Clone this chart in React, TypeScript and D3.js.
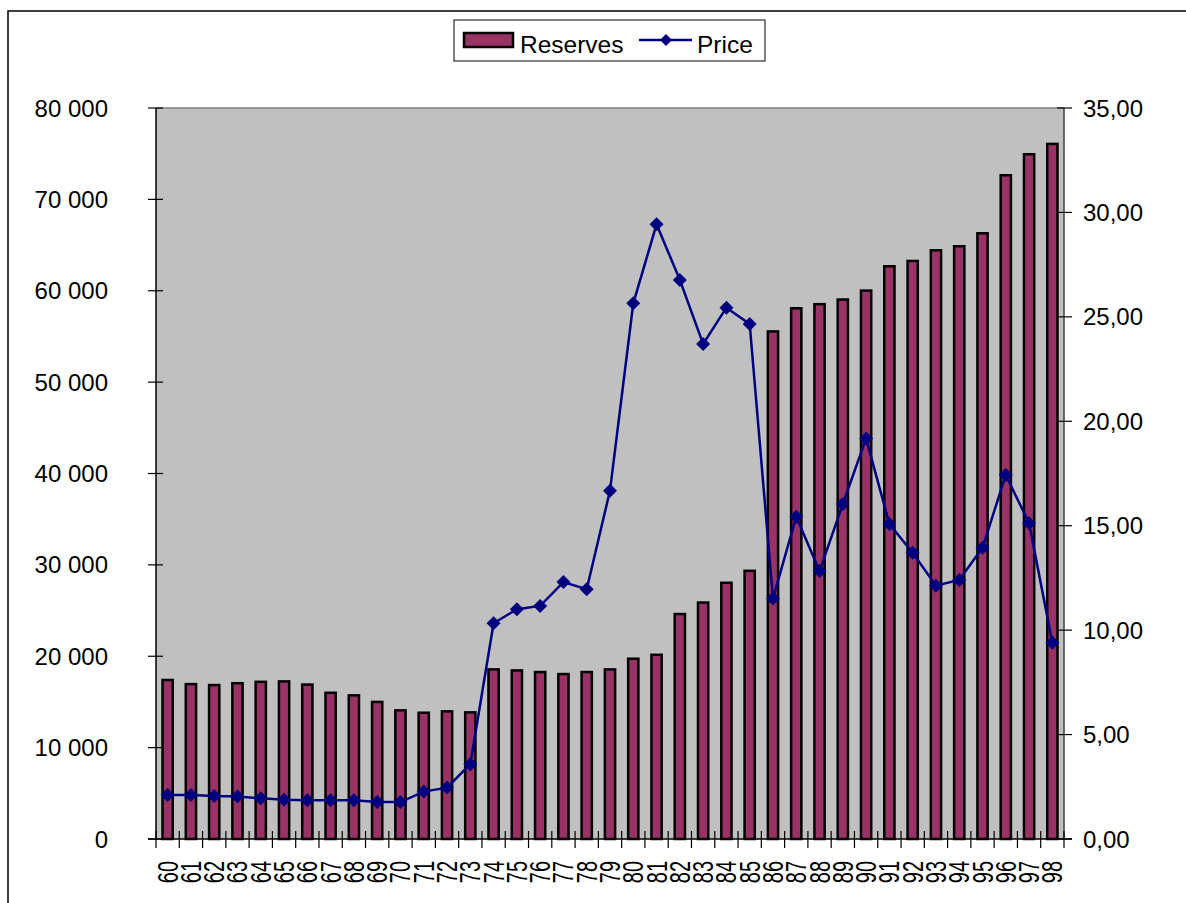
import React from 'react'
import * as d3 from 'd3'

const years = [
  '60', '61', '62', '63', '64', '65', '66', '67', '68', '69',
  '70', '71', '72', '73', '74', '75', '76', '77', '78', '79',
  '80', '81', '82', '83', '84', '85', '86', '87', '88', '89',
  '90', '91', '92', '93', '94', '95', '96', '97', '98',
]

const reserves = [
  17400, 16950, 16850, 17050, 17200, 17250, 16900, 16000, 15720, 15000,
  14080, 13820, 13970, 13860, 18560, 18450, 18270, 18050, 18270, 18560,
  19730, 20160, 24620, 25880, 28040, 29350, 55550, 58080, 58530, 59040,
  60020, 62680, 63260, 64430, 64870, 66290, 72640, 74940, 76070,
]

const price = [
  2.11, 2.11, 2.06, 2.04, 1.95, 1.88, 1.85, 1.85, 1.85, 1.77,
  1.77, 2.27, 2.46, 3.58, 10.33, 11.0, 11.16, 12.3, 11.96, 16.68,
  25.65, 29.43, 26.77, 23.7, 25.44, 24.66, 11.52, 15.43, 12.83, 16.04,
  19.18, 15.08, 13.71, 12.13, 12.4, 13.95, 17.43, 15.12, 9.4,
]

const leftTicks = [0, 10000, 20000, 30000, 40000, 50000, 60000, 70000, 80000]
const rightTicks = [0, 5, 10, 15, 20, 25, 30, 35]

const plot = { left: 156, right: 1064, top: 108, bottom: 839 }
const font = '"Liberation Sans", Arial, sans-serif'
const barColor = '#993366'
const lineColor = '#000080'

const fmtLeft = (v: number) => d3.format(',')(v).replace(/,/g, ' ')
const fmtRight = (v: number) => d3.format('.2f')(v).replace('.', ',')

function diamond(cx: number, cy: number, r: number) {
  return `M${cx},${cy - r}L${cx + r},${cy}L${cx},${cy + r}L${cx - r},${cy}Z`
}

export default function App() {
  const x = d3.scaleBand<string>().domain(years).range([plot.left, plot.right]).padding(0)
  const yLeft = d3.scaleLinear().domain([0, 80000]).range([plot.bottom, plot.top])
  const yRight = d3.scaleLinear().domain([0, 35]).range([plot.bottom, plot.top])
  const barW = x.bandwidth() * 0.44
  const center = (d: string) => (x(d) as number) + x.bandwidth() / 2

  const line = d3
    .line<number>()
    .x((_, i) => center(years[i]))
    .y((d) => yRight(d))

  const bandEdges = years.map((d) => x(d) as number).concat([plot.right])

  return (
    <svg
      width={1186}
      height={903}
      style={{ display: 'block', position: 'absolute', left: 0, top: 0 }}
    >
      <rect x={8} y={11} width={1200} height={920} fill="white" stroke="black" strokeWidth={1.5} />

      {/* legend */}
      <g fontFamily={font} fontSize={24.5}>
        <rect x={454} y={20} width={311} height={41} fill="white" stroke="black" strokeWidth={1} />
        <rect x={464} y={33} width={49} height={14} fill={barColor} stroke="black" strokeWidth={2.5} />
        <text x={520} y={53}>Reserves</text>
        <line x1={639} x2={692} y1={40} y2={40} stroke={lineColor} strokeWidth={2.5} />
        <path d={diamond(666, 40, 6)} fill={lineColor} />
        <text x={697} y={53}>Price</text>
      </g>

      <rect
        x={plot.left}
        y={plot.top}
        width={plot.right - plot.left}
        height={plot.bottom - plot.top}
        fill="#C0C0C0"
      />
      <line x1={plot.left} x2={plot.right} y1={plot.top} y2={plot.top} stroke="#808080" strokeWidth={1.5} />

      {years.map((d, i) => (
        <rect
          key={d}
          x={center(d) - barW / 2}
          y={yLeft(reserves[i])}
          width={barW}
          height={plot.bottom - yLeft(reserves[i])}
          fill={barColor}
          stroke="black"
          strokeWidth={2.5}
        />
      ))}

      <path d={line(price) ?? ''} fill="none" stroke={lineColor} strokeWidth={2.5} />
      {price.map((p, i) => (
        <path key={i} d={diamond(center(years[i]), yRight(p), 7)} fill={lineColor} />
      ))}

      {/* axes */}
      <line x1={plot.left} x2={plot.left} y1={plot.top} y2={plot.bottom} stroke="black" strokeWidth={1.5} />
      <line x1={plot.right} x2={plot.right} y1={plot.top} y2={plot.bottom} stroke="#404040" strokeWidth={1.5} />
      <line x1={plot.left - 8} x2={plot.right + 8} y1={plot.bottom} y2={plot.bottom} stroke="black" strokeWidth={1.5} />

      <g fontFamily={font} fontSize={24}>
        {leftTicks.map((t) => (
          <g key={'l' + t}>
            <line x1={plot.left - 8} x2={plot.left + 7} y1={yLeft(t)} y2={yLeft(t)} stroke="black" strokeWidth={1.2} />
            <text x={108} y={yLeft(t) + 8.5} textAnchor="end">
              {fmtLeft(t)}
            </text>
          </g>
        ))}
        {rightTicks.map((t) => (
          <g key={'r' + t}>
            <line x1={plot.right - 7} x2={plot.right + 8} y1={yRight(t)} y2={yRight(t)} stroke="black" strokeWidth={1.2} />
            <text x={1083} y={yRight(t) + 8.5} textAnchor="start">
              {fmtRight(t)}
            </text>
          </g>
        ))}
      </g>

      {bandEdges.map((e, i) => (
        <line key={'x' + i} x1={e} x2={e} y1={plot.bottom - 8} y2={plot.bottom + 9} stroke="black" strokeWidth={1.2} />
      ))}
      <g fontFamily={font} fontSize={20}>
        {years.map((d) => (
          <text
            key={'t' + d}
            transform={`translate(${center(d) + 10},${861}) rotate(-90) scale(1,1.45)`}
            textAnchor="end"
          >
            {d}
          </text>
        ))}
      </g>
    </svg>
  )
}
